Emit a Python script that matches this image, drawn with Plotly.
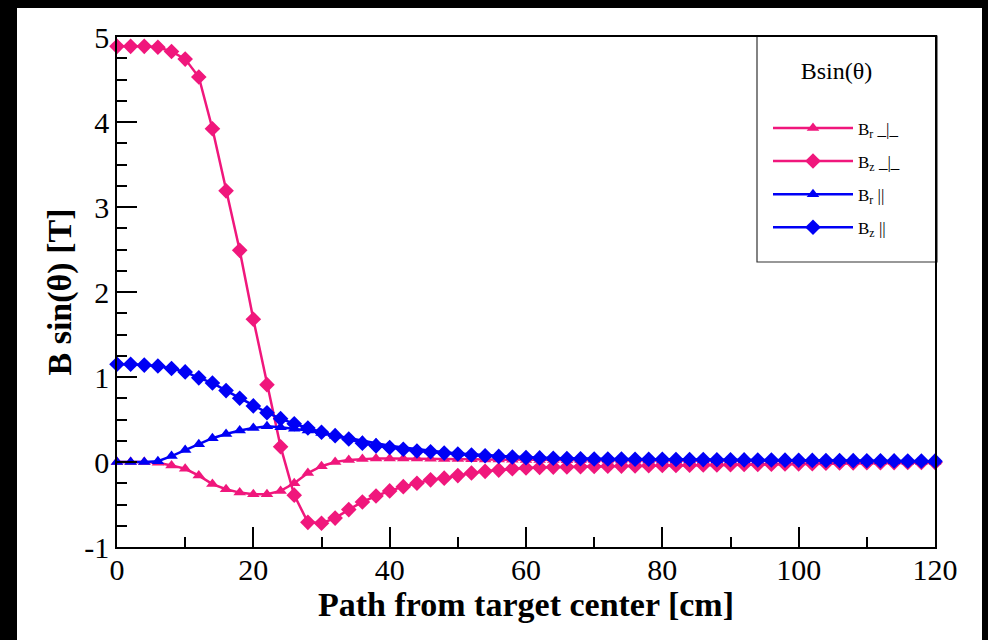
import plotly.graph_objects as go

path_cm = list(range(0, 122, 2))

br_perp = [0.0, 0.0, 0.0, -0.01, -0.04, -0.08, -0.16, -0.26, -0.32, -0.36,
           -0.38, -0.38, -0.34, -0.25, -0.13, -0.05, 0.0, 0.025, 0.035, 0.04,
           0.04, 0.04, 0.04, 0.038, 0.036, 0.034, 0.032, 0.03, 0.028, 0.026,
           0.025, 0.024, 0.023, 0.022, 0.021, 0.02, 0.019, 0.018, 0.017, 0.016,
           0.015, 0.014, 0.013, 0.012, 0.011, 0.01, 0.01, 0.009, 0.008, 0.008,
           0.007, 0.007, 0.006, 0.006, 0.005, 0.005, 0.004, 0.004, 0.003, 0.003, 0.003]

bz_perp = [4.89, 4.89, 4.89, 4.88, 4.83, 4.74, 4.53, 3.92, 3.19, 2.49,
           1.68, 0.91, 0.18, -0.39, -0.71, -0.72, -0.66, -0.56, -0.47, -0.40,
           -0.34, -0.29, -0.25, -0.21, -0.19, -0.16, -0.13, -0.11, -0.095, -0.08,
           -0.07, -0.065, -0.06, -0.058, -0.055, -0.053, -0.05, -0.048, -0.046, -0.044,
           -0.042, -0.04, -0.038, -0.036, -0.034, -0.032, -0.03, -0.028, -0.026, -0.024,
           -0.022, -0.02, -0.015, -0.012, -0.01, -0.009, -0.008, -0.007, -0.006, -0.005, -0.005]

br_par = [0.0, 0.0, 0.0, 0.01, 0.07, 0.14, 0.21, 0.28, 0.33, 0.37,
          0.40, 0.42, 0.41, 0.39, 0.37, 0.34, 0.31, 0.28, 0.25, 0.22,
          0.19, 0.17, 0.15, 0.13, 0.115, 0.10, 0.09, 0.08, 0.07, 0.062,
          0.055, 0.05, 0.045, 0.04, 0.037, 0.034, 0.032, 0.03, 0.028, 0.027,
          0.026, 0.025, 0.024, 0.023, 0.022, 0.021, 0.02, 0.019, 0.018, 0.017,
          0.015, 0.014, 0.013, 0.012, 0.011, 0.01, 0.009, 0.008, 0.007, 0.006, 0.005]

bz_par = [1.15, 1.15, 1.14, 1.13, 1.10, 1.06, 0.99, 0.93, 0.84, 0.75,
          0.66, 0.58, 0.51, 0.45, 0.40, 0.35, 0.31, 0.27, 0.22, 0.19,
          0.17, 0.15, 0.13, 0.12, 0.105, 0.094, 0.082, 0.074, 0.066, 0.058,
          0.052, 0.048, 0.044, 0.04, 0.038, 0.036, 0.035, 0.034, 0.033, 0.032,
          0.031, 0.03, 0.029, 0.028, 0.027, 0.026, 0.025, 0.024, 0.023, 0.022,
          0.02, 0.019, 0.018, 0.017, 0.016, 0.015, 0.014, 0.013, 0.012, 0.011, 0.01]

series_names = ["B<sub>r</sub> _|_", "B<sub>z</sub> _|_", "B<sub>r</sub> ||", "B<sub>z</sub> ||"]
series_values = [br_perp, bz_perp, br_par, bz_par]
series_colors = ["#F0177C", "#F0177C", "#0000F5", "#0000F5"]
series_symbols = ["triangle-up", "diamond", "triangle-up", "diamond"]
series_sizes = [11, 12, 11, 12]

y_tick_values = [-1, 0, 1, 2, 3, 4, 5]
y_tick_labels = ["-1", "0", "1", "2", "3", "4", "5"]

SERIF = "Liberation Serif"

fig = go.Figure()
for i, (name, vals, col, sym, sz) in enumerate(zip(series_names, series_values, series_colors,
                                                   series_symbols, series_sizes)):
    fig.add_trace(go.Scatter(
        x=path_cm, y=vals, name=name, mode="lines+markers",
        legendgroup=f"g{i}",
        line=dict(color=col, width=2.5),
        marker=dict(symbol=sym, size=sz, color=col),
        cliponaxis=False,
    ))

L, R, T, B = 117, 53, 37, 93
W, H = 988, 640
pw, ph = W - L - R, H - T - B

def px(xp):
    return (xp - L) / pw

def py(yp):
    return (H - B - yp) / ph

axis_common = dict(
    showgrid=False, zeroline=False, showline=True, linecolor="black", linewidth=1.5,
    mirror=True, ticks="inside", ticklen=20, tickwidth=1.5, tickcolor="black",
    tickfont=dict(family=SERIF, size=30, color="black"),
)

fig.update_xaxes(
    range=[0, 120], dtick=20, tick0=0, ticklabelstandoff=-5,
    minor=dict(ticks="inside", ticklen=10, dtick=10, tickwidth=1.5, tickcolor="black"),
    title=dict(text="<b>Path from target center [cm]</b>", font=dict(family=SERIF, size=34, color="black"), standoff=0),
    **axis_common,
)
fig.update_yaxes(
    range=[-1, 5], tickmode="array", tickvals=y_tick_values, ticktext=y_tick_labels,
    minor=dict(ticks="inside", ticklen=10, dtick=0.25, tickwidth=1.5, tickcolor="black"),
    title=dict(text="<b>B sin(θ) [T]</b>", font=dict(family=SERIF, size=34, color="black"), standoff=2),
    **axis_common,
)

fig.update_layout(
    width=W, height=H,
    margin=dict(l=L, r=R, t=T, b=B),
    paper_bgcolor="black", plot_bgcolor="white",
    showlegend=True,
    legend=dict(
        x=px(768), y=py(48), xanchor="left", yanchor="top",
        bgcolor="rgba(0,0,0,0)", borderwidth=0,
        title=dict(text="Bsin(θ)<br> ", side="top center", font=dict(family=SERIF, size=24, color="black")),
        font=dict(family=SERIF, size=17, color="black"),
        traceorder="grouped", tracegroupgap=8, itemwidth=80,
    ),
    shapes=[
        dict(type="rect", xref="paper", yref="paper", x0=px(17), x1=px(982), y0=py(660), y1=py(8),
             fillcolor="white", line=dict(width=0), layer="below"),
        dict(type="rect", xref="paper", yref="paper", x0=px(757), x1=px(937), y0=py(262), y1=py(36),
             fillcolor="white", line=dict(width=1.2, color="#333333"), layer="below"),
    ],
)

fig.write_html("out.html")
